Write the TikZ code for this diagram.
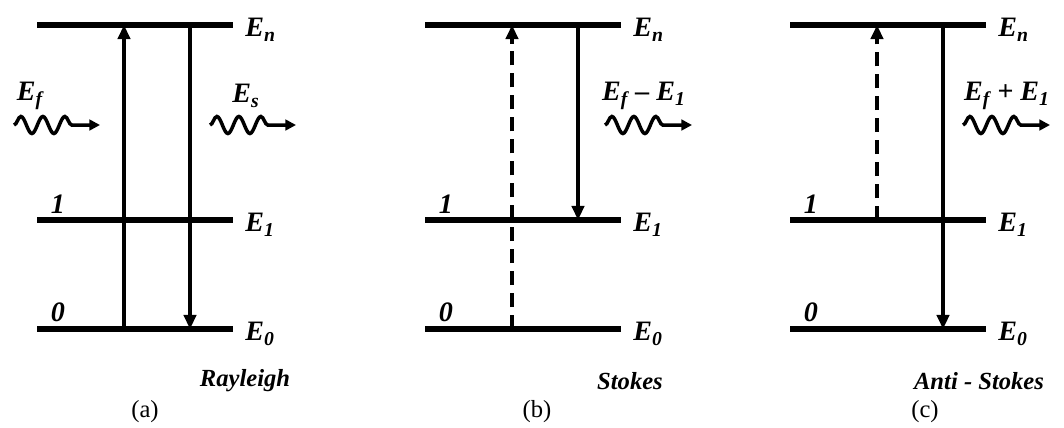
\documentclass[tikz,border=0pt]{standalone}
\usepackage{fontspec}
\setmainfont{Liberation Serif}
\usetikzlibrary{arrows.meta, positioning, decorations.pathmorphing}

\begin{document}
\begin{tikzpicture}[x=0.02cm, y=-0.02cm,
  level/.style={line width=3.3pt},
  trans/.style={line width=2pt, -{Triangle[length=8pt,width=7pt]}},
  virt/.style={trans, dash pattern=on 8pt off 4.5pt},
  photon/.style={line width=2pt, -{Triangle[length=6pt,width=6pt]},
    decorate, decoration={snake, amplitude=1.7mm, segment length=4.4mm, post length=5.5mm}},
  lbl/.style={font=\fontsize{14}{16}\selectfont\bfseries\itshape, inner sep=0pt},
  elbl/.style={font=\fontsize{16}{18}\selectfont\bfseries\itshape, inner sep=0pt},
  captxt/.style={font=\fontsize{14}{16}\selectfont, inner sep=0pt}]

  \useasboundingbox (0,0) rectangle (1064,427);

  % the three level schemes
  \foreach \p/\dx in {a/0, b/388, c/753} {
    \begin{scope}[shift={(\dx,0)}]
      \foreach \l/\y in {n/25, 1/220, 0/329} {
        \draw[level] (37,\y) coordinate (\p-\l-l) -- (233,\y) coordinate (\p-\l-r);
        \coordinate (\p-\l-up) at (124,\y);
        \coordinate (\p-\l-dn) at (190,\y);
        \node[elbl, anchor=west] (\p-\l-e) at (245,\y+5) {E\textsubscript{\l}};
      }
      \node[elbl] (\p-1-num) at (58,204) {1};
      \node[elbl] (\p-0-num) at (58,312) {0};
    \end{scope}
  }

  % transitions
  \draw[trans] (a-0-up) -- (a-n-up);
  \draw[trans] (a-n-dn) -- (a-0-dn);
  \draw[virt] (b-0-up) -- (b-n-up);
  \draw[trans] (b-n-dn) -- (b-1-dn);
  \draw[virt] (c-1-up) -- (c-n-up);
  \draw[trans] (c-n-dn) -- (c-0-dn);

  % photons
  \coordinate (a-in0) at (14,125);   \coordinate (a-in1) at (100,125);
  \coordinate (a-out0) at (210,125); \coordinate (a-out1) at (296,125);
  \coordinate (b-out0) at (605,125); \coordinate (b-out1) at (692,125);
  \coordinate (c-out0) at (963,125); \coordinate (c-out1) at (1050,125);
  \draw[photon] (a-in0) -- (a-in1);
  \draw[photon] (a-out0) -- (a-out1);
  \draw[photon] (b-out0) -- (b-out1);
  \draw[photon] (c-out0) -- (c-out1);
  \node[elbl] (a-ef) at (30,96) {E\textsubscript{f}};
  \node[elbl] (a-es) at (246,96) {E\textsubscript{s}};
  \node[elbl] (b-es) at (644,96) {E\textsubscript{f} – E\textsubscript{1}};
  \node[elbl] (c-es) at (1007,96) {E\textsubscript{f} + E\textsubscript{1}};

  % captions
  \node[lbl] (a-name) at (245,381) {Rayleigh};
  \node[lbl] (b-name) at (630,381) {Stokes};
  \node[lbl] (c-name) at (979,381) {Anti - Stokes};
  \node[captxt] (a-cap) at (145,412) {(a)};
  \node[captxt] (b-cap) at (537,412) {(b)};
  \node[captxt] (c-cap) at (925,412) {(c)};
\end{tikzpicture}
\end{document}
